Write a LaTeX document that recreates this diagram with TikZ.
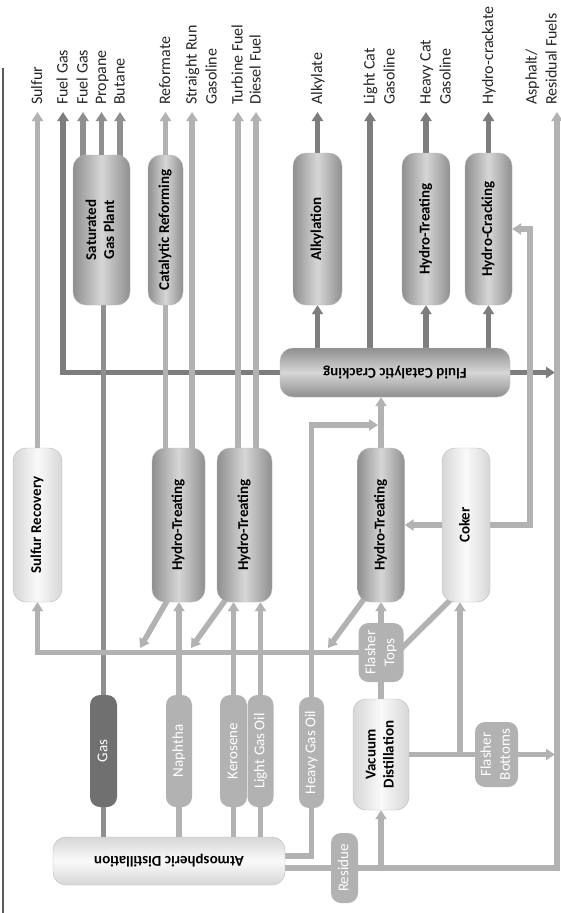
\documentclass[tikz,border=0pt]{standalone}
\usepackage{fontspec}
\setmainfont{Carlito}
\usepackage{graphicx}
\usetikzlibrary{arrows.meta,calc,backgrounds}

\definecolor{pipeL}{gray}{0.70}
\definecolor{pipeM}{gray}{0.56}
\definecolor{pipeD}{gray}{0.49}
\definecolor{unitE}{gray}{0.56}
\definecolor{unitC}{gray}{0.84}
\definecolor{lightE}{gray}{0.84}
\definecolor{lightC}{gray}{0.98}

\newcommand{\rottext}[2][c]{\rotatebox{90}{\begin{tabular}{@{}#1@{}}#2\end{tabular}}}
\newcommand{\fliptext}[1]{\rotatebox{180}{#1}}

\tikzset{
	pipe/.style={line width=5.5pt, color=pipeL},
	flow/.style={pipe, -{Triangle[width=11pt,length=9pt]}},
	unit/.style={rounded corners=13pt, draw=gray!55, line width=0.4pt, inner sep=0pt,
		font=\fontsize{15}{18}\selectfont\bfseries},
	unitM/.style={unit, left color=unitE, right color=unitE, middle color=unitC},
	unitL/.style={unit, left color=lightE, right color=lightE, middle color=lightC},
	unitH/.style={unit, top color=unitE, bottom color=unitE, middle color=unitC},
	unitHL/.style={unit, top color=lightE, bottom color=lightE, middle color=lightC},
	tag/.style={rounded corners=10pt, fill=pipeL, text=white, inner sep=0pt,
		font=\fontsize{15}{19}\selectfont},
	lbl/.style={anchor=south west, inner sep=0pt, xshift=-9.5pt, yshift=7pt,
		text=black!85, font=\fontsize{16}{20}\selectfont}
}

\begin{document}
\begin{tikzpicture}[x=1pt,y=-1pt]
	\useasboundingbox (0,0) rectangle (561,913);
	\clip (0,0) rectangle (561,913);
	\draw[gray!70!black, line width=1.2pt] (3,68) -- (3,913);
	
	% upper units
	\node[unitM, minimum width=57pt, minimum height=150pt] (sgp) at (101.5,230) {\rottext{Saturated\\Gas Plant}};
	\node[unitM, minimum width=35pt, minimum height=150pt] (catref) at (165.5,230) {\rottext{Catalytic Reforming}};
	\node[unitM, minimum width=49pt, minimum height=152pt] (alky) at (317.5,229) {\rottext{Alkylation}};
	\node[unitM, minimum width=48pt, minimum height=152pt] (htr) at (426,229) {\rottext{Hydro-Treating}};
	\node[unitM, minimum width=47pt, minimum height=152pt] (hcr) at (488.5,229) {\rottext{Hydro-Cracking}};
	\node[unitH, minimum width=230pt, minimum height=49pt] (fcc) at (395,372.5) {\fliptext{Fluid Catalytic Cracking}};
	
	% middle units
	\node[unitL, minimum width=49pt, minimum height=154pt] (sru) at (37.5,525) {\rottext{Sulfur Recovery}};
	\node[unitM, minimum width=53pt, minimum height=154pt] (ht1) at (178.5,525) {\rottext{Hydro-Treating}};
	\node[unitM, minimum width=55pt, minimum height=154pt] (ht2) at (244.5,525) {\rottext{Hydro-Treating}};
	\node[unitM, minimum width=47pt, minimum height=154pt] (htm) at (381,525) {\rottext{Hydro-Treating}};
	\node[unitL, minimum width=48pt, minimum height=154pt] (coker) at (466,525) {\rottext{Coker}};
	
	% crude cuts
	\node[tag, fill=pipeD!90!black, minimum width=27pt, minimum height=112pt] (gas) at (103.5,751) {\rottext{Gas}};
	\node[tag, minimum width=26pt, minimum height=112pt] (naphtha) at (179,751) {\rottext{Naphtha}};
	\node[tag, minimum width=27pt, minimum height=112pt] (kero) at (233.5,751) {\rottext{Kerosene}};
	\node[tag, minimum width=26pt, minimum height=112pt] (lgo) at (260.5,751) {\rottext{Light Gas Oil}};
	\node[tag, minimum width=25pt, minimum height=111pt] (hgo) at (311.5,752.5) {\rottext{Heavy Gas Oil}};
	\node[unitHL, minimum width=232pt, minimum height=48pt] (atm) at (169,861) {\fliptext{Atmospheric Distillation}};
	\node[tag, minimum width=27pt, minimum height=70pt] (residue) at (344.5,868) {\rottext{Residue}};
	\node[unitL, minimum width=56pt, minimum height=111pt] (vac) at (381,754.5) {\rottext{Vacuum\\Distillation}};
	\node[tag, minimum width=45pt, minimum height=59pt] (ftops) at (381,652.5) {\rottext{Flasher\\Tops}};
	\node[tag, minimum width=43pt, minimum height=65pt] (fbot) at (496.5,754.5) {\rottext{Flasher\\Bottoms}};
	
	% product arrow tips
	\coordinate (tSul) at (37.5,112);
	\coordinate (tFG1) at (63,112);
	\coordinate (tFG2) at (83,112);
	\coordinate (tPro) at (101.5,112);
	\coordinate (tBut) at (120,112);
	\coordinate (tRef) at (165.5,112);
	\coordinate (tSRG) at (192,112);
	\coordinate (tTur) at (238,112);
	\coordinate (tDie) at (256,112);
	\coordinate (tAlk) at (317.5,112);
	\coordinate (tLCG) at (370,112);
	\coordinate (tHCG) at (426,112);
	\coordinate (tHyd) at (488.5,112);
	\coordinate (tAsp) at (557,112);
	\coordinate (jHT) at (378,425);
	\coordinate (jCk) at (460,754.5);
	\coordinate (jHC) at (530,229);
	\coordinate (d1) at (140,648);
	\coordinate (d2) at (191,648);
	\coordinate (d3) at (328,648);
	\coordinate (d4) at (398,652);
	
	\node[lbl] (lSul) at (tSul) {\rottext[l]{Sulfur}};
	\node[lbl] (lFG1) at (tFG1) {\rottext[l]{Fuel Gas}};
	\node[lbl] (lFG2) at (tFG2) {\rottext[l]{Fuel Gas}};
	\node[lbl] (lPro) at (tPro) {\rottext[l]{Propane}};
	\node[lbl] (lBut) at (tBut) {\rottext[l]{Butane}};
	\node[lbl] (lRef) at (tRef) {\rottext[l]{Reformate}};
	\node[lbl] (lSRG) at (tSRG) {\rottext[l]{Straight Run\\Gasoline}};
	\node[lbl] (lTur) at (tTur) {\rottext[l]{Turbine Fuel}};
	\node[lbl] (lDie) at (tDie) {\rottext[l]{Diesel Fuel}};
	\node[lbl] (lAlk) at (tAlk) {\rottext[l]{Alkylate}};
	\node[lbl] (lLCG) at (tLCG) {\rottext[l]{Light Cat\\Gasoline}};
	\node[lbl] (lHCG) at (tHCG) {\rottext[l]{Heavy Cat\\Gasoline}};
	\node[lbl] (lHyd) at (tHyd) {\rottext[l]{Hydro-crackate}};
	\node[lbl, xshift=-25pt] (lAsp) at (tAsp) {\rottext[l]{Asphalt/\\Residual Fuels}};
	
	\begin{scope}[on background layer]
		\fill[white] (0,0) rectangle (561,913);
		% products
		\draw[flow] (sru) -- (tSul);
		\draw[flow, pipeD] (fcc.center) -| (tFG1);
		\draw[flow, pipeD, shorten >=2pt] (fcc.center) -- (fcc.center -| tAsp);
		\foreach \t in {tFG2,tPro,tBut}
			\draw[flow, pipeM] (\t |- sgp.center) -- (\t);
		\draw[flow] (catref) -- (tRef);
		\draw[pipe] (ht1.center -| catref) -- (catref.center);
		\draw[flow] (tSRG |- ht1.center) -- (tSRG);
		\draw[flow] (tTur |- ht2.center) -- (tTur);
		\draw[flow] (tDie |- ht2.center) -- (tDie);
		\draw[flow, pipeD] (fcc.center -| alky) -- (alky.south);
		\draw[flow, pipeD] (tLCG |- fcc.center) -- (tLCG);
		\draw[flow, pipeD] (fcc.center -| htr) -- (htr.south);
		\draw[flow, pipeD] (fcc.center -| hcr) -- (hcr.south);
		\draw[flow, pipeD] (alky) -- (tAlk);
		\draw[flow, pipeD] (htr) -- (tHCG);
		\draw[flow, pipeD] (hcr) -- (tHyd);
		
		% crude cuts
		\draw[pipe, pipeM] (atm.center -| gas) -- (gas |- sgp.center);
		\draw[flow] (atm.center -| naphtha) -- (naphtha |- ht1.south);
		\draw[flow] (atm.center -| kero) -- (kero |- ht2.south);
		\draw[flow] (atm.center -| lgo) -- (lgo |- ht2.south);
		\draw[flow] (atm.center |- 0,856) -| (hgo.center) |- (jHT);
		\draw[flow] (htm) -- (htm |- fcc.south);
		\draw[flow] (atm.center |- residue) -| (tAsp);
		\draw[flow] (residue.center -| vac) -- (vac.south);
		\draw[pipe] (vac) -- (ftops);
		\draw[flow] (ftops) -- (htm.south);
		\draw[flow, shorten >=2pt] (vac.center) -- (vac.center -| tAsp);
		\draw[flow] (jCk) -- (jCk |- coker.south);
		\draw[flow] (coker) -- (htm);
		\draw[flow] (coker.center) -| (jHC) -- (hcr.east);
		
		% sour gas to sulfur recovery
		\draw[flow] (ftops.center) -| (sru.south);
		\draw[flow] ($(ht1.south)+(-6.5,-10)$) -- (d1);
		\draw[flow] ($(ht2.south)+(-13.5,-10)$) -- (d2);
		\draw[flow] ($(htm.south)+(-12,-10)$) -- (d3);
		\draw[pipe] ($(coker.south)+(-8,-10)$) -- (d4);
	\end{scope}
\end{tikzpicture}
\end{document}
